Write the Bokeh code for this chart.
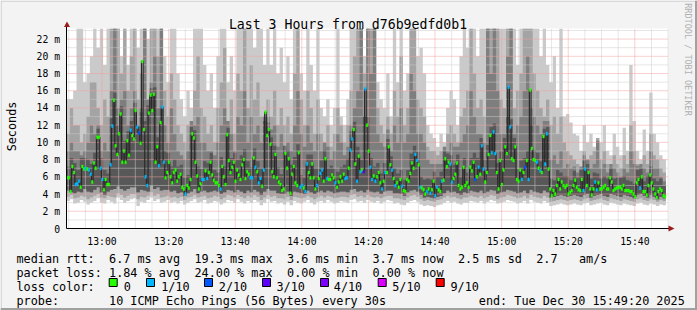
import numpy as np
from bokeh.plotting import figure
from bokeh.models import ColumnDataSource, Label, BoxAnnotation, PolyAnnotation, Range1d
from bokeh.core.properties import value
from bokeh.embed import file_html
from bokeh.resources import INLINE

# ---------------------------------------------------------------- data
title_text = "Last 3 Hours from d76b9edfd0b1"
start_clock = "12:49:20"
sample_seconds = 30          # median samples
smoke_seconds = 60           # smoke (ping spread) samples
xtick_labels = ["13:00", "13:20", "13:40", "14:00", "14:20", "14:40", "15:00", "15:20", "15:40"]
ytick_values = [0, 2, 4, 6, 8, 10, 12, 14, 16, 18, 20, 22]
ytick_labels = ["0", "2 m", "4 m", "6 m", "8 m", "10 m", "12 m", "14 m", "16 m", "18 m", "20 m", "22 m"]
y_axis_label = "Seconds"
watermark = "RRDTOOL / TOBI OETIKER"

# median rtt (ms), one value per 30 s
median_ms = [
    5.9, 5.9, 4.3, 7.2, 6.5, 5.1, 5.2, 5.5, 4.8, 7.2, 6.9, 7.0, 6.9, 6.8, 6.3, 5.4, 7.6, 7.0, 10.6, 10.6, 7.0, 5.7, 4.5, 5.7, 5.1, 5.1, 7.4, 11.9, 14.9, 9.6,
    8.6, 11.0, 13.3, 7.7, 9.0, 7.7, 10.2, 8.5, 11.4, 10.8, 10.4, 13.7, 11.8, 11.1, 9.9, 19.4, 11.5, 6.0, 5.0, 13.4, 15.5, 13.7, 15.6, 7.7, 9.5, 7.3, 12.3, 14.1, 7.7, 5.9,
    6.5, 7.7, 6.0, 5.3, 6.5, 6.8, 5.5, 6.0, 6.3, 4.8, 4.6, 4.0, 5.0, 4.7, 5.7, 11.0, 10.5, 7.7, 6.1, 4.6, 5.2, 5.7, 5.7, 6.7, 5.8, 6.5, 7.7, 6.2, 5.6, 5.3,
    5.3, 5.0, 4.6, 7.2, 6.0, 5.1, 10.9, 7.9, 6.5, 7.1, 7.7, 5.5, 6.8, 6.2, 5.7, 7.4, 8.0, 5.8, 6.6, 6.3, 5.9, 5.9, 8.2, 7.1, 6.6, 5.3, 5.8, 4.9, 6.8, 13.5,
    10.8, 11.5, 9.8, 6.6, 6.0, 8.6, 5.9, 5.4, 5.1, 4.4, 4.6, 8.7, 7.0, 8.1, 4.1, 6.3, 7.2, 5.3, 5.0, 8.8, 4.8, 5.0, 4.7, 4.3, 7.5, 6.5, 5.9, 7.5, 5.9, 4.6,
    5.0, 5.8, 6.4, 6.8, 5.5, 8.1, 5.8, 5.7, 5.7, 6.2, 5.9, 5.3, 4.8, 5.4, 6.0, 5.5, 6.3, 5.8, 5.9, 7.0, 9.1, 10.4, 11.5, 7.5, 5.5, 8.4, 6.6, 6.8, 6.6, 16.2,
    12.0, 9.0, 7.1, 5.7, 6.1, 5.5, 6.0, 6.5, 5.3, 4.6, 5.5, 6.5, 6.5, 9.5, 7.4, 6.8, 5.8, 5.0, 5.3, 4.8, 5.7, 4.9, 4.4, 4.3, 5.7, 5.5, 6.4, 7.6, 7.0, 8.6,
    7.9, 7.4, 4.8, 4.7, 4.5, 4.0, 4.3, 4.6, 4.1, 4.5, 5.5, 3.8, 4.8, 4.5, 4.3, 5.5, 5.6, 8.1, 7.2, 7.7, 7.5, 5.4, 5.8, 6.3, 7.6, 5.0, 4.6, 4.8, 7.1, 5.0,
    5.3, 4.8, 7.1, 6.7, 7.7, 5.7, 6.0, 7.1, 6.3, 9.6, 6.9, 5.4, 6.5, 8.6, 10.8, 8.8, 11.2, 8.7, 6.5, 4.6, 7.9, 5.1, 6.8, 9.5, 8.7, 16.4, 11.8, 8.1, 7.9, 9.5,
    5.7, 5.5, 6.8, 5.7, 6.5, 7.1, 7.9, 5.7, 16.1, 9.3, 8.0, 7.9, 7.7, 7.0, 6.7, 6.5, 10.7, 7.5, 11.0, 6.9, 4.6, 3.8, 4.4, 4.0, 5.0, 5.7, 4.6, 5.4, 5.0, 4.8,
    5.0, 4.0, 4.2, 4.4, 5.0, 5.6, 4.8, 4.5, 4.4, 5.7, 4.4, 6.9, 5.0, 6.5, 4.6, 3.9, 4.6, 5.4, 4.5, 5.3, 4.6, 4.6, 4.8, 5.0, 4.6, 4.6, 5.9, 5.4, 4.4, 4.6,
    4.7, 4.8, 4.8, 4.6, 5.0, 4.4, 4.4, 4.4, 4.3, 4.3, 4.0, 3.7, 5.3, 5.7, 4.7, 6.0, 4.3, 4.3, 3.9, 5.0, 6.2, 5.3, 4.6, 4.0, 3.6, 4.3, 4.6, 4.4, 3.8, 3.7,
]

# lost pings (out of 10) per 30 s sample
loss_tenths = [
    0, 0, 0, 0, 0, 1, 1, 1, 0, 0, 0, 1, 0, 1, 1, 0, 0, 0, 0, 0, 1, 1, 0, 0, 0, 0, 1, 1, 0, 0,
    0, 0, 0, 0, 0, 0, 0, 0, 1, 0, 0, 0, 1, 2, 0, 0, 0, 1, 1, 0, 0, 0, 0, 0, 0, 1, 0, 1, 1, 0,
    0, 0, 0, 0, 0, 0, 0, 0, 0, 0, 0, 1, 0, 0, 0, 0, 0, 0, 0, 0, 0, 1, 1, 0, 1, 0, 0, 0, 0, 0,
    0, 0, 1, 0, 0, 0, 0, 0, 0, 0, 0, 0, 0, 0, 0, 0, 0, 0, 0, 0, 1, 1, 0, 1, 0, 1, 1, 0, 1, 0,
    0, 0, 0, 0, 0, 0, 0, 0, 0, 0, 0, 0, 0, 0, 0, 0, 0, 0, 0, 0, 1, 1, 0, 1, 1, 0, 0, 0, 0, 0,
    1, 0, 1, 1, 0, 0, 1, 0, 0, 0, 0, 1, 0, 0, 0, 0, 0, 1, 1, 0, 1, 1, 0, 0, 1, 0, 1, 0, 3, 1,
    0, 0, 1, 1, 0, 1, 0, 0, 0, 1, 0, 1, 0, 0, 0, 1, 0, 1, 0, 0, 0, 1, 0, 0, 0, 0, 0, 0, 0, 1,
    1, 0, 1, 0, 0, 0, 1, 0, 1, 0, 0, 1, 1, 0, 0, 1, 0, 0, 0, 0, 1, 1, 0, 0, 0, 0, 0, 0, 0, 0,
    0, 0, 0, 0, 0, 2, 0, 1, 0, 1, 1, 0, 0, 0, 0, 1, 1, 1, 0, 0, 0, 0, 0, 0, 0, 1, 1, 0, 0, 0,
    0, 0, 0, 1, 0, 2, 0, 1, 0, 0, 0, 0, 1, 0, 1, 0, 0, 1, 1, 0, 0, 0, 0, 0, 0, 0, 0, 0, 0, 0,
    0, 0, 0, 0, 0, 0, 0, 0, 0, 0, 1, 1, 0, 0, 0, 0, 0, 1, 1, 0, 0, 0, 0, 0, 0, 0, 0, 0, 0, 0,
    0, 0, 0, 0, 0, 0, 0, 0, 0, 0, 0, 0, 0, 0, 1, 0, 0, 0, 0, 0, 0, 0, 0, 0, 0, 0, 0, 0, 0, 0,
]

# smoke: sorted ping rtts (ms), one value per minute
smoke_max = [
    15, 15, 16, 23.2, 23.2, 17, 18, 20, 23.2, 21, 23.2, 19, 23.2, 23.2, 23.2, 23.2, 20, 23.2, 19, 23.2, 23.2, 21, 23.2, 23.2, 22, 23.2, 23.2, 23.2, 23.2, 20,
    17, 23.2, 23.2, 18, 15, 13, 16, 14, 23.2, 23.2, 23.2, 19, 16, 18, 14, 20, 23.2, 23.2, 17, 20, 16, 23.2, 23.2, 23.2, 23.2, 23.2, 21, 23.2, 23.2, 19,
    23.2, 19, 23.2, 18, 21, 17, 20, 15, 23.2, 23.2, 18, 16, 23.2, 19, 16, 23.2, 14, 13, 15, 12, 14, 23.2, 13, 12, 15, 23.2, 23.2, 23.2, 23.2, 20,
    23.2, 23.2, 23.2, 17, 15, 14, 18, 13, 23.2, 17, 23.2, 16, 18, 23.2, 23.2, 20, 21, 18, 12, 11, 10.5, 9.5, 11, 10, 14, 16, 15, 12, 20, 23.2,
    21, 23.2, 23.2, 20, 23.2, 23.2, 23.2, 23.2, 23.2, 23.2, 23.2, 23.2, 23.2, 23.2, 23.2, 19, 23.2, 23.2, 23.2, 23.2, 23.2, 23.2, 20, 23.2, 19, 17, 20, 14, 23.2, 13,
    13.3, 12.3, 11, 10.8, 9, 12, 10, 11, 9.5, 10.5, 10, 12, 9, 8.5, 11, 9.5, 8.5, 11.7, 9, 19, 12.5, 9, 8, 11.5, 9, 15.8, 11, 10, 8.5, 8,
]
smoke_p9 = [
    11, 14, 12, 12, 10, 11, 13, 17, 17, 14, 12, 15, 13, 23.2, 23.2, 23.2, 18, 23.2, 16, 20, 23.2, 15, 18, 23.2, 14, 23.2, 23.2, 20, 23.2, 16,
    13, 18, 15, 12, 11, 10, 12, 11, 16, 20, 14, 13, 11, 12, 10, 14, 17, 21, 12, 15, 11, 18, 16, 23.2, 14, 19, 15, 17, 13, 12,
    15, 13, 16, 12, 14, 12, 13, 11, 18, 23.2, 15, 12, 16, 14, 11, 15, 11, 10, 12, 9.5, 11, 14, 12, 10, 12, 16, 20, 23.2, 23.2, 18,
    23.2, 23.2, 23.2, 14, 12, 11, 13, 11, 16, 13, 20, 12, 14, 23.2, 23.2, 15, 14, 13, 9.5, 9, 9, 8.5, 9, 8.5, 11, 12, 11, 10, 13, 14,
    16, 23.2, 18, 14, 15, 13, 23.2, 23.2, 23.2, 23.2, 15, 14, 23.2, 23.2, 14, 16, 18, 23.2, 23.2, 23.2, 18, 16, 14, 13, 15, 12, 13, 11, 13, 10,
    9, 8.5, 8, 7.5, 7, 9, 8, 8.5, 9, 10.5, 8, 9, 7.5, 7, 8.5, 7.5, 7, 8.5, 7.5, 12, 9, 7.5, 7, 8.5, 7.5, 11, 8.5, 8, 7, 6.5,
]
smoke_p8 = [
    9, 10, 9, 9, 8.5, 9, 10, 12, 11, 12, 9, 10, 9, 16, 23.2, 14, 15, 16, 12, 14, 16, 12, 14, 23.2, 15, 17, 20, 14, 23.2, 12,
    10, 14, 11, 9, 8.5, 8, 9, 12.5, 12, 13, 10, 10, 9, 9, 8.5, 10, 12, 14, 12.5, 11, 9, 13, 12, 16, 10, 13, 11, 12, 10, 13,
    13, 11.5, 12, 9.5, 11, 9.5, 10, 9, 12, 16, 11, 9.5, 12, 10, 9, 11, 9, 10, 9.5, 8, 9, 11, 10, 8.5, 9.5, 12, 14, 16, 23.2, 13,
    23.2, 18, 23.2, 11, 10, 9.5, 11.5, 9, 12, 10, 14, 10, 11, 18, 16, 11, 11, 10, 8, 7.5, 7.5, 7.5, 7.5, 9.5, 9, 10, 9.5, 9.5, 10, 11,
    12, 16, 13, 11, 11, 10, 23.2, 18, 23.2, 16, 11, 11, 20, 23.2, 11, 12, 13, 16, 20, 14, 13, 12, 11, 12.5, 12.5, 8, 8.5, 7.5, 9, 7,
    7.5, 7, 7.2, 6.5, 7.2, 8.5, 8, 7, 7.5, 10.2, 7, 7.5, 6.5, 7.5, 7, 6.5, 6, 7, 6.5, 9, 7.5, 7.3, 7.5, 7, 6.5, 9, 7, 7, 6, 5.5,
]
smoke_p7 = [
    7.2, 8.2, 7.6, 6.8, 8.2, 8.2, 8.0, 7.5, 8.8, 11.6, 8.2, 6.8, 6.4, 12.8, 15.8, 12.0, 14.2, 10.2, 11.3, 12.5, 14.6, 11.8, 13.5, 12.5, 14.3, 16.3, 16.4, 10.6, 14.0, 9.0,
    8.8, 7.2, 8.0, 7.2, 7.4, 5.9, 6.2, 11.8, 11.4, 7.2, 6.9, 7.8, 7.6, 8.8, 6.8, 6.5, 8.3, 7.2, 11.7, 8.2, 8.8, 8.0, 8.5, 9.2, 7.8, 7.1, 9.3, 7.8, 7.0, 12.5,
    12.3, 10.6, 9.6, 7.1, 6.3, 9.6, 9.1, 7.4, 8.3, 9.8, 6.2, 5.9, 8.6, 8.6, 7.0, 7.0, 7.9, 9.1, 7.0, 7.3, 7.0, 6.6, 7.1, 7.4, 8.1, 11.3, 12.4, 9.5, 8.0, 13.0,
    13.0, 8.2, 7.2, 7.6, 6.4, 7.6, 10.4, 8.4, 7.0, 6.4, 6.8, 5.6, 6.8, 8.7, 9.6, 8.9, 6.0, 5.7, 5.8, 5.7, 6.6, 6.0, 6.6, 9.0, 8.7, 8.5, 7.4, 8.6, 6.0, 8.2,
    6.5, 8.2, 8.8, 8.2, 10.5, 8.0, 9.7, 11.8, 12.2, 7.6, 9.0, 10.5, 13.0, 12.7, 10.5, 6.9, 7.9, 8.2, 9.0, 12.0, 9.1, 8.8, 7.8, 11.6, 11.8, 5.8, 5.6, 6.8, 6.5, 6.1,
    6.1, 5.6, 6.7, 5.9, 6.8, 7.9, 7.5, 5.8, 6.5, 6.4, 5.8, 6.1, 5.8, 7.0, 5.8, 5.9, 5.9, 6.1, 5.6, 5.5, 5.2, 6.8, 7.0, 5.5, 6.1, 7.2, 5.8, 5.5, 5.8, 5.0,
]
smoke_p4 = [
    4.4, 4.2, 4.1, 4.3, 4.2, 4.6, 4.3, 4.2, 4.5, 4.8, 4.2, 3.9, 4.3, 4.5, 4.6, 4.9, 4.6, 4.4, 4.6, 4.8, 4.8, 4.2, 4.5, 4.4, 4.3, 5.0, 4.6, 4.8, 4.4, 4.5,
    4.5, 4.3, 4.4, 4.1, 4.2, 3.8, 4.1, 4.3, 4.6, 4.1, 4.3, 4.4, 4.2, 4.3, 4.4, 4.3, 4.0, 4.2, 4.5, 4.4, 4.2, 4.5, 4.3, 4.1, 4.4, 4.2, 4.5, 4.3, 3.9, 4.3,
    4.6, 4.4, 4.4, 4.1, 4.0, 4.0, 4.3, 3.8, 4.3, 4.2, 4.1, 4.0, 4.4, 4.2, 4.0, 4.2, 4.4, 4.2, 4.4, 4.3, 4.1, 4.2, 4.3, 4.3, 4.2, 4.5, 4.6, 4.3, 4.4, 4.2,
    4.5, 4.3, 4.2, 4.3, 4.0, 4.3, 4.4, 4.4, 4.1, 4.1, 4.0, 3.8, 4.2, 4.4, 4.5, 4.3, 3.9, 3.6, 3.7, 3.6, 3.5, 3.7, 3.8, 4.1, 4.4, 4.2, 4.3, 4.1, 3.9, 4.2,
    4.1, 4.4, 4.3, 4.2, 4.4, 4.1, 4.3, 4.5, 4.4, 4.0, 4.2, 4.3, 4.5, 4.4, 4.3, 4.1, 4.2, 4.4, 4.1, 4.5, 4.3, 4.2, 4.1, 4.4, 4.2, 3.6, 3.7, 3.8, 3.9, 3.8,
    3.7, 3.8, 3.9, 3.8, 3.7, 3.9, 4.0, 3.6, 3.8, 3.9, 4.0, 3.8, 3.7, 4.0, 3.9, 3.8, 3.7, 3.9, 3.8, 3.7, 3.5, 3.9, 4.0, 3.8, 3.6, 3.9, 3.7, 3.4, 3.7, 3.5,
]
smoke_p2 = [
    3.7, 3.9, 3.5, 3.6, 3.8, 3.7, 3.4, 3.6, 3.8, 4.0, 3.6, 3.5, 3.8, 3.7, 3.6, 4.1, 3.9, 3.6, 3.8, 4.0, 4.0, 3.4, 3.7, 3.6, 3.8, 4.2, 3.8, 4.0, 3.6, 3.7,
    3.8, 3.6, 3.7, 3.5, 3.7, 3.3, 3.6, 3.7, 3.9, 3.6, 3.7, 3.8, 3.5, 3.6, 3.8, 3.7, 3.4, 3.6, 3.9, 3.8, 3.6, 3.9, 3.7, 3.5, 3.8, 3.6, 3.9, 3.7, 3.3, 3.6,
    3.9, 3.7, 3.8, 3.5, 3.5, 3.4, 3.7, 3.3, 3.7, 3.6, 3.5, 3.6, 3.8, 3.6, 3.4, 3.6, 3.8, 3.6, 3.8, 3.7, 3.5, 3.6, 3.7, 3.7, 3.6, 3.9, 4.0, 3.7, 3.8, 3.6,
    3.9, 3.7, 3.6, 3.7, 3.5, 3.7, 3.8, 3.8, 3.5, 3.5, 3.4, 3.3, 3.6, 3.8, 3.9, 3.7, 3.4, 3.2, 3.3, 3.2, 3.1, 3.3, 3.4, 3.6, 3.8, 3.6, 3.7, 3.5, 3.4, 3.6,
    3.6, 3.8, 3.7, 3.6, 3.8, 3.5, 3.7, 3.9, 3.8, 3.4, 3.6, 3.7, 3.9, 3.8, 3.7, 3.5, 3.6, 3.8, 3.5, 3.9, 3.7, 3.6, 3.5, 3.8, 3.6, 3.1, 3.2, 3.3, 3.4, 3.3,
    3.2, 3.3, 3.4, 3.3, 3.2, 3.4, 3.5, 3.2, 3.3, 3.4, 3.5, 3.3, 3.2, 3.5, 3.4, 3.3, 3.2, 3.4, 3.3, 3.2, 3.1, 3.4, 3.5, 3.3, 3.2, 3.4, 3.3, 3.1, 3.3, 3.2,
]
smoke_min = [
    3.2, 3.4, 2.9, 3.0, 3.3, 3.1, 2.8, 3.0, 3.2, 3.5, 3.0, 2.9, 3.3, 3.1, 2.9, 3.6, 3.3, 3.0, 3.2, 3.4, 3.5, 2.6, 3.1, 3.0, 3.3, 3.6, 3.2, 3.4, 3.0, 3.1,
    3.3, 3.0, 3.1, 2.9, 3.2, 2.8, 3.0, 3.2, 3.4, 3.0, 3.1, 3.3, 2.9, 3.0, 3.2, 3.1, 2.8, 3.0, 3.3, 3.2, 3.0, 3.4, 3.1, 2.9, 3.2, 3.0, 3.3, 3.1, 2.7, 3.0,
    3.4, 3.1, 3.2, 2.9, 3.0, 2.8, 3.1, 2.7, 3.2, 3.0, 2.9, 3.1, 3.3, 3.0, 2.8, 3.1, 3.2, 3.0, 3.3, 3.1, 2.9, 3.0, 3.2, 3.1, 3.0, 3.3, 3.4, 3.1, 3.2, 3.0,
    3.3, 3.1, 3.0, 3.2, 2.9, 3.1, 3.3, 3.2, 2.9, 3.0, 2.8, 2.7, 3.0, 3.2, 3.3, 3.1, 2.8, 2.6, 2.7, 2.6, 2.5, 2.7, 2.8, 3.0, 3.2, 3.0, 3.1, 2.9, 2.8, 3.0,
    3.0, 3.2, 3.1, 3.0, 3.2, 2.9, 3.1, 3.3, 3.2, 2.9, 3.0, 3.1, 3.3, 3.2, 3.1, 2.9, 3.0, 3.2, 2.9, 3.3, 3.1, 3.0, 2.9, 3.2, 3.0, 2.6, 2.7, 2.8, 2.9, 2.8,
    2.7, 2.8, 2.9, 2.8, 2.7, 2.9, 3.0, 2.7, 2.8, 2.9, 3.0, 2.8, 2.7, 3.0, 2.9, 2.8, 2.7, 2.9, 2.8, 2.7, 2.6, 2.9, 3.0, 2.8, 2.7, 2.9, 2.8, 2.6, 2.8, 2.7,
]

rtt_row = ["median rtt:", "6.7 ms avg", "19.3 ms max", "3.6 ms min", "3.7 ms now", "2.5 ms sd", "2.7", "am/s"]
loss_row = ["packet loss:", "1.84 % avg", "24.00 % max", "0.00 % min", "0.00 % now"]
color_row_title = "loss color:"
legend_labels = ["0", "1/10", "2/10", "3/10", "4/10", "5/10", "9/10"]
legend_counts = [0, 1, 2, 3, 4, 5, 9]
probe_row = ["probe:", "10 ICMP Echo Pings (56 Bytes) every 30s"]
end_text = "end: Tue Dec 30 15:49:20 2025"

# ---------------------------------------------------------------- styles / layout
LOSS_COLORS = {0: "#26ff00", 1: "#00b8ff", 2: "#0059ff", 3: "#5e00ff",
               4: "#7e00ff", 5: "#dd00ff", 9: "#ff0000"}
MONO = "DejaVu Sans Mono"
W, H = 697, 310
FL, FR, FT, FB = 66, 668, 28, 228          # chart area in pixels
PXM = 3.33                                  # pixels per minute
Y_TOP = 23.23
PYM = (FB - FT) / Y_TOP                     # pixels per ms


def clock_to_min(s):
    parts = [int(v) for v in s.split(":")]
    return parts[0] * 60 + parts[1] + (parts[2] / 60.0 if len(parts) > 2 else 0)


T0 = clock_to_min(start_clock)
X_END = T0 + (FR - FL) / PXM


def sx(px):
    return T0 + (px - FL) / PXM


def sy(py):
    return (FB - py) / PYM


# the frame covers the whole image; time/ms scales are placed so the chart area sits where it should
p = figure(width=W, height=H, title=None, x_range=Range1d(sx(0), sx(W)), y_range=Range1d(sy(H), sy(0)),
           output_backend="svg", toolbar_location=None, min_border=0,
           x_axis_location=None, y_axis_location=None,
           background_fill_color="#f3f3f3", border_fill_color="#f3f3f3",
           outline_line_color=None)
p.grid.grid_line_color = None

# white canvas
p.add_layout(BoxAnnotation(left=T0, right=X_END, bottom=0, top=Y_TOP, fill_color="#ffffff",
                           fill_alpha=1.0, line_color=None, level="underlay"))

# ---- smoke bands
n_smoke = len(smoke_max)
step = smoke_seconds / 60.0
edges = T0 + np.arange(n_smoke + 1) * step


def ext(a):
    return list(a) + [a[-1]]


smoke_src = ColumnDataSource(dict(x=edges, mn=ext(smoke_min), mx=ext(smoke_max),
                                  p2=ext(smoke_p2), p9=ext(smoke_p9), p4=ext(smoke_p4),
                                  p8=ext(smoke_p8), p7=ext(smoke_p7)))
for lo, hi, col in [("mn", "mx", "#cacaca"), ("p2", "p9", "#a4a4a4"), ("p4", "p8", "#7e7e7e"),
                    ("p4", "p7", "#585858")]:
    p.varea_step(x="x", y1=lo, y2=hi, source=smoke_src, step_mode="after", fill_color=col)

# ---- grid (drawn over the smoke)
xticks = [int(round(clock_to_min(l))) for l in xtick_labels]
x_minor = [t for t in range(int(np.ceil(T0 / 5.0)) * 5, int(X_END) + 1, 5) if t not in xticks]
y_minor = [v for v in range(1, int(Y_TOP) + 1) if v not in ytick_values]
p.segment(x0=x_minor, x1=x_minor, y0=0, y1=Y_TOP, line_color="#cccccc", line_dash="1 1", line_width=1)
p.segment(x0=T0, x1=X_END, y0=y_minor, y1=y_minor, line_color="#cccccc", line_dash="1 1", line_width=1)
p.segment(x0=xticks, x1=xticks, y0=0, y1=Y_TOP, line_color="#f2a0a0", line_dash="1 1", line_width=1)
p.segment(x0=T0, x1=X_END, y0=ytick_values[1:], y1=ytick_values[1:], line_color="#f2a0a0",
          line_dash="1 1", line_width=1)

# ---- median: dark connecting trace + loss-coloured markers
med = np.array(median_ms)
ms_step = sample_seconds / 60.0
left = T0 + np.arange(len(med)) * ms_step
p.step(x=left + ms_step / 2, y=med, mode="center", line_color="#2a2a2a", line_width=1.2)
half = 1.5 / PYM
med_src = ColumnDataSource(dict(left=left, right=left + ms_step, bottom=med - half, top=med + half,
                                color=[LOSS_COLORS[k] for k in loss_tenths]))
p.quad(left="left", right="right", bottom="bottom", top="top", source=med_src,
       fill_color="color", line_color="color", line_width=0.4)

# ---- axes
p.segment(x0=T0, x1=sx(FR + 1), y0=0, y1=0, line_color="#000000", line_width=1)
p.segment(x0=T0, x1=T0, y0=0, y1=sy(FT - 2), line_color="#000000", line_width=1)
p.text(x=xticks, y=[sy(240.5)] * len(xticks), text=xtick_labels, text_align="center",
       text_baseline="alphabetic", text_font=value(MONO), text_font_size="9.75px", text_color="#000000")
p.text(x=[sx(59.5)] * len(ytick_values), y=ytick_values, text=ytick_labels, text_align="right",
       text_baseline="middle", text_font=value(MONO), text_font_size="9.75px", text_color="#000000")
p.add_layout(PolyAnnotation(xs=[sx(63.5), sx(69.5), sx(66.5)], ys=[sy(26.5), sy(26.5), sy(21)],
                            fill_color="#9b1c1c", fill_alpha=1.0, line_color=None))
p.add_layout(PolyAnnotation(xs=[sx(668), sx(668), sx(674)], ys=[sy(225), sy(231), sy(228)],
                            fill_color="#9b1c1c", fill_alpha=1.0, line_color=None))


# ---- texts
def text(px, py, s, size="11.8px", align="left", baseline="alphabetic", angle=0.0, color="#000000"):
    p.add_layout(Label(x=sx(px), y=sy(py), text=s, text_font=MONO, text_font_size=size,
                       text_align=align, text_baseline=baseline, angle=angle, text_color=color))


def box(x0, y0, x1, y1, fill, line=None):
    p.add_layout(BoxAnnotation(left=sx(x0), right=sx(x1), top=sy(y0), bottom=sy(y1),
                               fill_color=fill, fill_alpha=1.0, line_color=line,
                               line_alpha=1.0, line_width=1, level="overlay"))


text(347.5, 24, title_text, size="13.2px", align="center")
text(11, 126, y_axis_label, align="center", baseline="middle", angle=np.pi / 2)
text(687.5, 59, watermark, size="8.5px", align="center", baseline="middle",
     angle=-np.pi / 2, color="#b0b0b0")

CW = 7.12
for s, col in zip(rtt_row, [0, 13, 25, 38, 50, 62, 73, 79]):
    text(16 + col * CW, 258.3, s)
for s, col in zip(loss_row, [0, 13, 25, 38, 50]):
    text(16 + col * CW, 272.3, s)
text(16, 286.3, color_row_title)
box_x = [108.7, 146.0, 204.0, 262.0, 320.0, 377.7, 435.7]
lab_x = [123.3, 160.7, 218.3, 276.0, 333.3, 391.7, 450.0]
for bx, lx, lbl, cnt in zip(box_x, lab_x, legend_labels, legend_counts):
    box(bx, 278, bx + 8, 286, LOSS_COLORS[cnt], "#000000")
    text(lx, 286.3, lbl)
for s, col in zip(probe_row, [0, 13]):
    text(16 + col * CW, 300.3, s)
text(478.3, 300.3, end_text)

# ---- 3D frame of the image
box(0, 0, W, 1.5, "#d8d8d8")
box(0, 0, 1.5, H, "#d8d8d8")
box(0, H - 2.5, W, H, "#a0a0a0")
box(W - 2.5, 0, W, H, "#a0a0a0")

open("out.html", "w").write(file_html(p, INLINE))
